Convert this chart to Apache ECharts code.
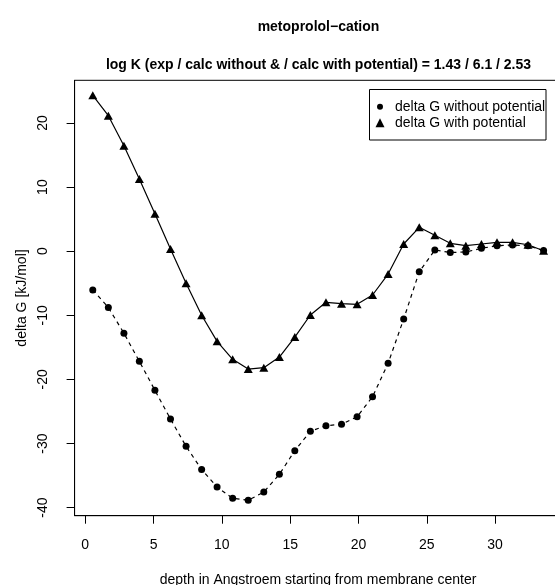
<!DOCTYPE html>
<html>
<head>
<meta charset="utf-8">
<script src="https://cdn.jsdelivr.net/npm/echarts@6/dist/echarts.min.js"></script>
<style>
html,body{margin:0;padding:0;background:#fff;}
#chart{width:555px;height:585px;}
</style>
</head>
<body>
<div id="chart"></div>
<script>
// depth in Angstroem
var depth = [0.55, 1.69, 2.83, 3.96, 5.10, 6.24, 7.38, 8.52, 9.65, 10.79,
             11.93, 13.07, 14.21, 15.34, 16.48, 17.62, 18.76, 19.90, 21.03, 22.17,
             23.31, 24.45, 25.59, 26.72, 27.86, 29.00, 30.14, 31.28, 32.41, 33.55];
// delta G without potential
var dGwithout = [-6.05, -8.78, -12.79, -17.18, -21.7, -26.18, -30.44, -34.06, -36.79, -38.55,
                 -38.86, -37.57, -34.8, -31.12, -28.1, -27.22, -27.0, -25.82, -22.7, -17.49,
                 -10.58, -3.2, 0.19, -0.2, -0.12, 0.45, 0.86, 0.97, 0.86, 0.1];
// delta G with potential
var dGwith = [24.32, 21.14, 16.46, 11.26, 5.85, 0.34, -5.01, -10.0, -14.06, -16.86,
              -18.38, -18.17, -16.51, -13.39, -9.95, -7.97, -8.19, -8.28, -6.83, -3.56,
              1.12, 3.73, 2.48, 1.23, 0.86, 1.12, 1.39, 1.39, 1.01, 0.08];
var xTicks = [0, 5, 10, 15, 20, 25, 30];
var yTicks = [-40, -30, -20, -10, 0, 10, 20];
var seriesNames = ['delta G without potential', 'delta G with potential'];
var titleText = 'metoprolol\u2212cation';
var subtitleText = 'log K (exp / calc without & / calc with potential) = 1.43 / 6.1 / 2.53';

function pairs(xs, ys) { return xs.map(function (x, i) { return [x, ys[i]]; }); }

var FONT = '"Liberation Sans", Arial, Helvetica, sans-serif';
var TRI = 'path://M0,10L5,0L10,10Z';
var chart = echarts.init(document.getElementById('chart'), null, {renderer: 'canvas'});
chart.setOption({
  animation: false,
  backgroundColor: '#fff',
  textStyle: {fontFamily: FONT, color: '#000'},
  title: {
    text: titleText,
    subtext: subtitleText,
    left: 318.5, top: 20.5, textAlign: 'center', padding: 0, itemGap: 24,
    textStyle: {fontFamily: FONT, fontSize: 14, fontWeight: 'bold', color: '#000'},
    subtextStyle: {fontFamily: FONT, fontSize: 14, fontWeight: 'bold', color: '#000'}
  },
  grid: {
    left: 74.6, top: 80.3, right: -6.6, bottom: 69.3,
    show: true, borderColor: '#000', borderWidth: 1, backgroundColor: 'transparent',
    containLabel: false, outerBoundsMode: 'none'
  },
  graphic: [{
    type: 'rect', z: 3,
    shape: {x: 369.5, y: 89.5, width: 176.5, height: 50.5},
    style: {fill: '#fff', stroke: '#000', lineWidth: 1}
  }],
  legend: [{
    data: [{name: seriesNames[0], icon: 'circle'}],
    left: 377.0, top: 99.7, padding: 0, itemWidth: 20, itemHeight: 6,
    selectedMode: false, z: 5, symbolKeepAspect: true,
    textStyle: {fontFamily: FONT, fontSize: 14, color: '#000'}
  }, {
    data: [{name: seriesNames[1], icon: TRI}],
    left: 375.5, top: 115.7, padding: 0, itemWidth: 20, itemHeight: 9,
    selectedMode: false, z: 5, symbolKeepAspect: true,
    textStyle: {fontFamily: FONT, fontSize: 14, color: '#000'}
  }],
  xAxis: {
    type: 'value', min: -0.78, max: 34.87,
    name: 'depth in Angstroem starting from membrane center',
    nameLocation: 'middle', nameGap: 57,
    nameTextStyle: {fontFamily: FONT, fontSize: 14, color: '#000'},
    axisLine: {show: true, onZero: false, lineStyle: {color: '#000', width: 1}},
    axisTick: {show: true, length: 8, lineStyle: {color: '#000', width: 1}, customValues: xTicks},
    axisLabel: {fontFamily: FONT, fontSize: 14, color: '#000', margin: 22, customValues: xTicks},
    splitLine: {show: false}
  },
  yAxis: {
    type: 'value', min: -41.26, max: 26.66,
    name: 'delta G [kJ/mol]',
    nameLocation: 'middle', nameGap: 42, nameRotate: 90,
    nameTextStyle: {fontFamily: FONT, fontSize: 14, color: '#000'},
    axisLine: {show: true, onZero: false, lineStyle: {color: '#000', width: 1}},
    axisTick: {show: true, length: 8, lineStyle: {color: '#000', width: 1}, customValues: yTicks},
    axisLabel: {fontFamily: FONT, fontSize: 14, color: '#000', margin: 24, rotate: 90, customValues: yTicks},
    splitLine: {show: false}
  },
  series: [{
    name: seriesNames[0], type: 'line', data: pairs(depth, dGwithout),
    symbol: 'circle', symbolSize: 7, showAllSymbol: true,
    itemStyle: {color: '#000'},
    lineStyle: {color: '#000', width: 1.2, type: [4, 4]},
    emphasis: {disabled: true}, z: 2
  }, {
    name: seriesNames[1], type: 'line', data: pairs(depth, dGwith),
    symbol: 'triangle', symbolSize: [9, 8], showAllSymbol: true,
    itemStyle: {color: '#000'},
    lineStyle: {color: '#000', width: 1.2, type: 'solid'},
    emphasis: {disabled: true}, z: 3
  }]
});
</script>
</body>
</html>
